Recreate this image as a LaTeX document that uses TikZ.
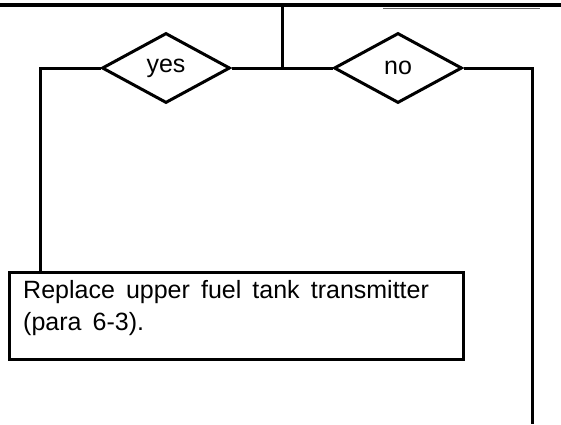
\documentclass[tikz,border=0pt]{standalone}
\usepackage{fontspec}
\setmainfont{Liberation Sans}
\newfontfamily\boxfont[WordSpace=1.6]{Liberation Sans}
\usepackage{tikz}
\usetikzlibrary{shapes.geometric}

\begin{document}
\begin{tikzpicture}[x=1pt,y=-1pt,
  dia/.style={shape=diamond, draw, line width=3pt, minimum width=128pt,
    minimum height=70pt, inner sep=0pt, font=\fontsize{25}{30}\selectfont},
  procbox/.style={shape=rectangle, draw, line width=3pt, minimum width=454pt,
    minimum height=87pt, anchor=north west, inner sep=0pt, outer sep=0pt},
  wire/.style={line width=3pt}]
\useasboundingbox (0,0) rectangle (561,424);
\draw[line width=4pt] (0,5) -- (561,5);
\draw[black!60, line width=1pt] (383,8) -- (540,8);
\node[dia] (yes) at (166,68) {yes};
\node[dia] (no) at (398,68) {no};
\node[procbox] (box) at (9,272) {};
\node[anchor=north west, inner sep=0pt, align=left,
  font=\boxfont\fontsize{25}{32}\selectfont] (boxtext) at (23,280)
  {Replace upper fuel tank transmitter\\(para 6-3).};
\coordinate (topjoin) at (282,7);
\coordinate (noend) at (532,424);
\draw[wire] (yes.east) -- (no.west);
\draw[wire] (topjoin) -- (topjoin |- yes.east);
\draw[wire] (yes.west) -| ([xshift=31pt]box.north west);
\draw[wire] (no.east) -| (noend);
\end{tikzpicture}
\end{document}
